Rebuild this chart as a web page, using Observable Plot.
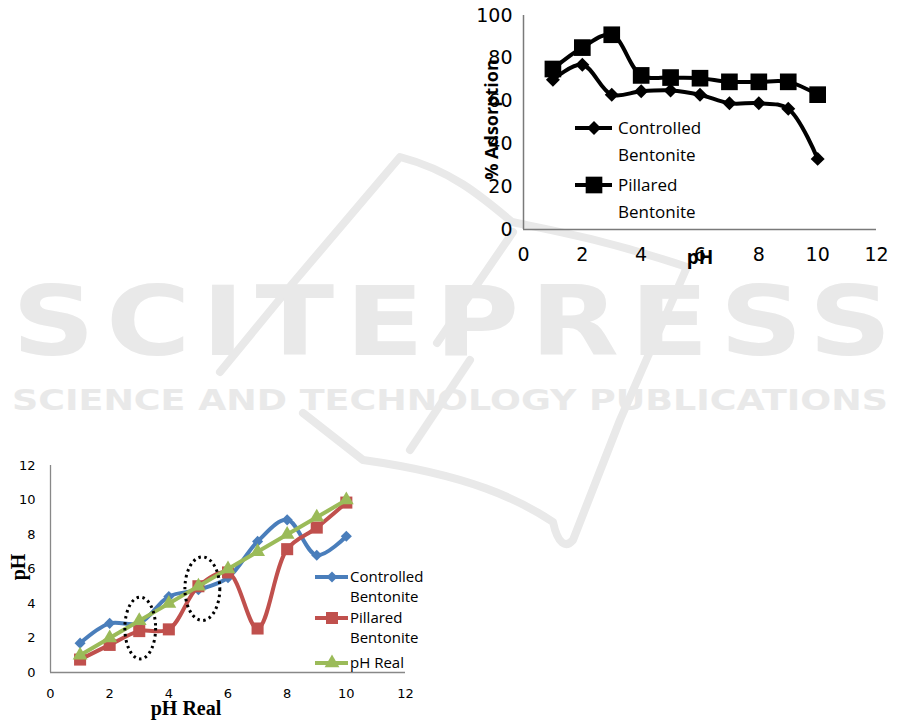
<!DOCTYPE html>
<html><head><meta charset="utf-8">
<script src="https://cdn.jsdelivr.net/npm/d3@7"></script>
<script src="https://cdn.jsdelivr.net/npm/@observablehq/plot@0.6"></script>
<style>
html,body{margin:0;padding:0;background:#fff;}
#page{position:relative;width:901px;height:723px;overflow:hidden;background:#fff;}
#wm{position:absolute;left:0;top:0;}
#top{position:absolute;left:470px;top:0;}
#bottom{position:absolute;left:0;top:450px;}
</style></head>
<body>
<div id="page">
<svg id="wm" width="901" height="723"></svg>
<div id="top"></div>
<div id="bottom"></div>
</div>
<script>
// ---- Data ----
const phValues = [1, 2, 3, 4, 5, 6, 7, 8, 9, 10];
const adsorptionControlled = [70, 77, 63, 64.6, 65, 63, 59, 59, 56.4, 33];
const adsorptionPillared = [75, 85, 91, 72, 71, 70.7, 69, 69, 69, 63];
const phMeasuredControlled = [1.7, 2.85, 2.85, 4.4, 4.8, 5.5, 7.6, 8.85, 6.8, 7.9];
const phMeasuredPillared = [0.75, 1.6, 2.4, 2.5, 5.0, 5.8, 2.55, 7.15, 8.4, 9.85];
const phRealValues = [1, 2, 3, 4, 5, 6, 7, 8, 9, 10];
const xTicks = [0, 2, 4, 6, 8, 10, 12];
const yTicksTop = [0, 20, 40, 60, 80, 100];
const yTicksBottom = [0, 2, 4, 6, 8, 10, 12];
const seriesNames = ["Controlled Bentonite", "Pillared Bentonite", "pH Real"];
// dotted annotation ellipses (data units)
const ellipseCx = [3.05, 5.15];
const ellipseCy = [2.55, 4.83];
const ellipseRx = [0.52, 0.59];
const ellipseRy = [1.79, 1.84];

const topData = phValues.map((x, i) => ({pH: x, controlled: adsorptionControlled[i], pillared: adsorptionPillared[i]}));
const bottomData = phRealValues.map((x, i) => ({real: x, controlled: phMeasuredControlled[i], pillared: phMeasuredPillared[i], ph: phRealValues[i]}));

// ---- Watermark ----
const wm = d3.select("#wm");
const wmColor = "#e9e9e9";
wm.append("g").attr("fill", "none").attr("stroke", wmColor).attr("stroke-width", 8)
  .attr("stroke-linejoin", "round").attr("stroke-linecap", "round")
  .selectAll("path").data([
    "M220,372 L293,283 L400,157 C450,170 480,195 512,222 C540,228 600,238 687,267 L620,420 L573,540 C566,548 558,545 553,522 C520,500 470,475 363,460 L303,413",
    "M513,232 L437,343",
    "M470,360 L410,450"
  ]).join("path").attr("d", d => d);
wm.append("text").attr("transform", "scale(1.2,1)").attr("x", 10).attr("y", 355).attr("textLength", 733).attr("lengthAdjust", "spacing")
  .attr("font-family", "DejaVu Sans").attr("font-weight", "bold").attr("font-size", 96).attr("fill", wmColor).text("SCITEPRESS");
wm.append("text").attr("x", 12).attr("y", 410).attr("textLength", 876).attr("lengthAdjust", "spacingAndGlyphs")
  .attr("font-family", "DejaVu Sans").attr("font-weight", "bold").attr("font-size", 29).attr("fill", wmColor).text("SCIENCE AND TECHNOLOGY PUBLICATIONS");

function symArea(r) { return Math.PI * r * r; }

function addLegend(svg, cfg) {
  const g = d3.select(svg).append("g").attr("text-anchor", "start");
  cfg.items.forEach(it => {
    g.append("line").attr("x1", cfg.x1).attr("x2", cfg.x2).attr("y1", it.y).attr("y2", it.y)
      .attr("stroke", it.color).attr("stroke-width", 4);
    g.append("path").attr("transform", `translate(${cfg.mx},${it.y})`)
      .attr("d", d3.symbol(it.symbol, symArea(it.r))()).attr("fill", it.color);
    it.lines.forEach((t, k) => {
      g.append("text").attr("x", cfg.tx).attr("y", it.y + k * cfg.gap).attr("dy", "0.35em")
        .attr("text-anchor", "start")
        .attr("font-family", cfg.font).attr("font-size", cfg.fontSize).attr("fill", "#000").text(t);
    });
  });
}

// ---- Top chart ----
const topChart = Plot.plot({
  width: 430, height: 285,
  marginTop: 15, marginRight: 24, marginBottom: 56, marginLeft: 53,
  style: {background: "transparent", fontFamily: "'DejaVu Sans', sans-serif", fontSize: "19px", color: "#000", overflow: "visible"},
  x: {domain: [0, 12]},
  y: {domain: [0, 100]},
  marks: [
    Plot.axisX({ticks: xTicks, tickSize: 0, tickPadding: 18, label: null}),
    Plot.axisY({ticks: yTicksTop, tickSize: 0, tickPadding: 11, label: null}),
    Plot.ruleX([0], {stroke: "#7a7a7a", strokeWidth: 1.5}),
    Plot.ruleY([0], {stroke: "#7a7a7a", strokeWidth: 1.5}),
    Plot.line(topData, {x: "pH", y: "controlled", stroke: "#000", strokeWidth: 4, curve: "catmull-rom"}),
    Plot.dot(topData, {x: "pH", y: "controlled", symbol: "diamond2", r: 6.3, fill: "#000", stroke: "none"}),
    Plot.line(topData, {x: "pH", y: "pillared", stroke: "#000", strokeWidth: 4, curve: "catmull-rom"}),
    Plot.dot(topData, {x: "pH", y: "pillared", symbol: "square", r: 9.4, fill: "#000", stroke: "none"}),
    Plot.text(["% Adsorption"], {text: d => d, frameAnchor: "left", textAnchor: "middle", dx: -31, dy: -3, rotate: -90, fontFamily: "'Open Sans', sans-serif", fontWeight: "bold", fontSize: 18, fill: "#000"}),
    Plot.text(["pH"], {text: d => d, frameAnchor: "bottom", dy: 34, fontFamily: "'Open Sans', sans-serif", fontWeight: "bold", fontSize: 19, fill: "#000"})
  ]
});
document.getElementById("top").appendChild(topChart);
addLegend(topChart, {
  x1: 105, x2: 142, mx: 124, tx: 148, gap: 27, font: "'Open Sans', sans-serif", fontSize: 17,
  items: [
    {lines: ["Controlled", "Bentonite"], y: 128, symbol: d3.symbolDiamond2, r: 6.3, color: "#000"},
    {lines: ["Pillared", "Bentonite"], y: 185, symbol: d3.symbolSquare, r: 9.4, color: "#000"}
  ]
});

// ---- Bottom chart ----
const blue = "#4a7ebb", red = "#c0504d", green = "#9bbb59";
const bottomChart = Plot.plot({
  width: 430, height: 273,
  marginTop: 15, marginRight: 25, marginBottom: 51, marginLeft: 50,
  style: {background: "transparent", fontFamily: "'DejaVu Sans', sans-serif", fontSize: "13px", color: "#000", overflow: "visible"},
  x: {domain: [0, 12]},
  y: {domain: [0, 12]},
  marks: [
    Plot.axisX({ticks: xTicks, tickSize: 0, tickPadding: 16, label: null}),
    Plot.axisY({ticks: yTicksBottom, tickSize: 0, tickPadding: 15, label: null}),
    Plot.ruleX([0], {stroke: "#888", strokeWidth: 1.3}),
    Plot.ruleY([0], {stroke: "#888", strokeWidth: 1.3}),
    Plot.line(bottomData, {x: "real", y: "controlled", stroke: blue, strokeWidth: 4, curve: "catmull-rom"}),
    Plot.dot(bottomData, {x: "real", y: "controlled", symbol: "diamond2", r: 5, fill: blue, stroke: "none"}),
    Plot.line(bottomData, {x: "real", y: "pillared", stroke: red, strokeWidth: 4, curve: "catmull-rom"}),
    Plot.dot(bottomData, {x: "real", y: "pillared", symbol: "square", r: 6.8, fill: red, stroke: "none"}),
    Plot.line(bottomData, {x: "real", y: "ph", stroke: green, strokeWidth: 4, curve: "catmull-rom"}),
    Plot.dot(bottomData, {x: "real", y: "ph", symbol: "triangle", r: 5.5, fill: green, stroke: "none"}),
    Plot.text(["pH"], {text: d => d, frameAnchor: "left", textAnchor: "middle", dx: -32, dy: -2, rotate: -90, fontFamily: "'Liberation Serif', serif", fontWeight: "bold", fontSize: 20, fill: "#000"}),
    Plot.text(["pH Real"], {text: d => d, frameAnchor: "bottom", dx: -42, dy: 42, fontFamily: "'Liberation Serif', serif", fontWeight: "bold", fontSize: 20, fill: "#000"})
  ]
});
document.getElementById("bottom").appendChild(bottomChart);
{
  const sx = bottomChart.scale("x"), sy = bottomChart.scale("y");
  const g = d3.select(bottomChart).append("g");
  ellipseCx.forEach((cx, i) => {
    const px = sx.apply(cx), py = sy.apply(ellipseCy[i]);
    g.append("ellipse").attr("cx", px).attr("cy", py)
      .attr("rx", Math.abs(sx.apply(cx + ellipseRx[i]) - px))
      .attr("ry", Math.abs(sy.apply(ellipseCy[i] + ellipseRy[i]) - py))
      .attr("fill", "none").attr("stroke", "#000").attr("stroke-width", 3).attr("stroke-dasharray", "2.5,3.5");
  });
}
addLegend(bottomChart, {
  x1: 315, x2: 348, mx: 332, tx: 350, gap: 20, font: "'Open Sans', sans-serif", fontSize: 15,
  items: [
    {lines: ["Controlled", "Bentonite"], y: 127, symbol: d3.symbolDiamond2, r: 5, color: blue},
    {lines: ["Pillared", "Bentonite"], y: 168, symbol: d3.symbolSquare, r: 6.8, color: red},
    {lines: ["pH Real"], y: 213, symbol: d3.symbolTriangle, r: 5.5, color: green}
  ]
});
</script>
</body></html>
